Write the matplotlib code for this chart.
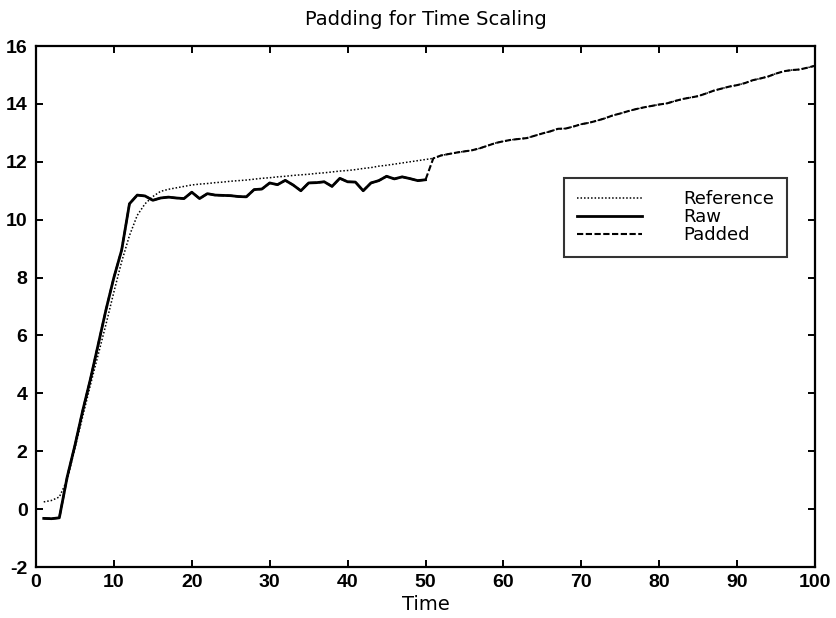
import matplotlib
matplotlib.use("Agg")
import matplotlib.pyplot as plt
import numpy as np

# Sample index (time steps)
time = list(range(1, 101))

# Reference trajectory over the full 100 steps
reference = [
    0.25, 0.30, 0.42, 1.00, 2.10, 3.20, 4.30, 5.35, 6.40, 7.50,
    8.55, 9.45, 10.15, 10.55, 10.80, 10.98, 11.05, 11.10, 11.15, 11.20,
    11.23, 11.25, 11.28, 11.30, 11.33, 11.35, 11.37, 11.40, 11.43, 11.45,
    11.48, 11.50, 11.53, 11.55, 11.57, 11.60, 11.62, 11.65, 11.68, 11.70,
    11.73, 11.77, 11.80, 11.85, 11.88, 11.92, 11.96, 12.00, 12.04, 12.08,
    12.12, 12.22, 12.27, 12.32, 12.36, 12.40, 12.47, 12.56, 12.65, 12.71,
    12.76, 12.79, 12.82, 12.90, 12.98, 13.05, 13.14, 13.15, 13.22, 13.30,
    13.35, 13.42, 13.50, 13.60, 13.67, 13.75, 13.82, 13.88, 13.93, 13.98,
    14.02, 14.10, 14.17, 14.22, 14.27, 14.36, 14.46, 14.53, 14.60, 14.65,
    14.72, 14.82, 14.88, 14.95, 15.05, 15.13, 15.17, 15.19, 15.25, 15.32,
]

# Raw measured signal, only 50 steps long
raw = [
    -0.32, -0.33, -0.30, 1.10, 2.20, 3.40, 4.50, 5.70, 6.90, 8.00,
    8.95, 10.55, 10.85, 10.82, 10.67, 10.75, 10.78, 10.75, 10.73, 10.95,
    10.73, 10.90, 10.85, 10.84, 10.83, 10.80, 10.79, 11.04, 11.06, 11.27,
    11.21, 11.36, 11.20, 11.00, 11.27, 11.28, 11.31, 11.15, 11.43, 11.31,
    11.30, 11.00, 11.27, 11.35, 11.50, 11.41, 11.48, 11.42, 11.35, 11.38,
]

# Padded signal: raw samples followed by the reference tail
padded = raw + reference[len(raw):]

plt.rcParams["font.family"] = ["DejaVu Sans"]
plt.rcParams["axes.unicode_minus"] = False

fig = plt.figure(figsize=(8.36, 6.18), dpi=100)
ax = fig.add_axes([0.043, 0.0825, 0.932, 0.843])

ax.plot(time, padded, color="black", linestyle=(0, (3, 1.2)), linewidth=1.5,
        label="Padded", zorder=2)
ax.plot(time[:len(raw)], raw, color="black", linestyle="-", linewidth=2.0,
        label="Raw", zorder=3)
ax.plot(time, reference, color="black", linestyle=(0, (1, 1.3)), linewidth=1.1,
        label="Reference", zorder=4)

ax.set_xlim(0, 100)
ax.set_ylim(-2, 16)
ax.set_xticks(np.arange(0, 101, 10))
ax.set_yticks(np.arange(-2, 17, 2))

for sp in ax.spines.values():
    sp.set_linewidth(1.6)
    sp.set_color("black")

ax.tick_params(direction="in", length=5, width=1.4, top=True, right=True,
               colors="black")
ax.tick_params(axis="x", pad=5)
ax.tick_params(axis="y", pad=6)
for lbl in ax.get_xticklabels() + ax.get_yticklabels():
    lbl.set_fontfamily("Liberation Sans")
    lbl.set_fontweight("bold")
    lbl.set_fontsize(14)

ax.set_title("Padding for Time Scaling", fontsize=14, pad=15.5)
ax.set_xlabel("Time", fontsize=14, labelpad=3)

handles, labels = ax.get_legend_handles_labels()
order = [2, 1, 0]
leg = ax.legend([handles[i] for i in order], [labels[i] for i in order],
                loc="upper left", bbox_to_anchor=(0.678, 0.747),
                borderaxespad=0, frameon=True, fancybox=False,
                edgecolor="black", fontsize=13, handlelength=3.6,
                handletextpad=2.3, labelspacing=0.0, borderpad=0.7)
leg.get_frame().set_linewidth(1.5)

fig.savefig("out.png", dpi=100)
